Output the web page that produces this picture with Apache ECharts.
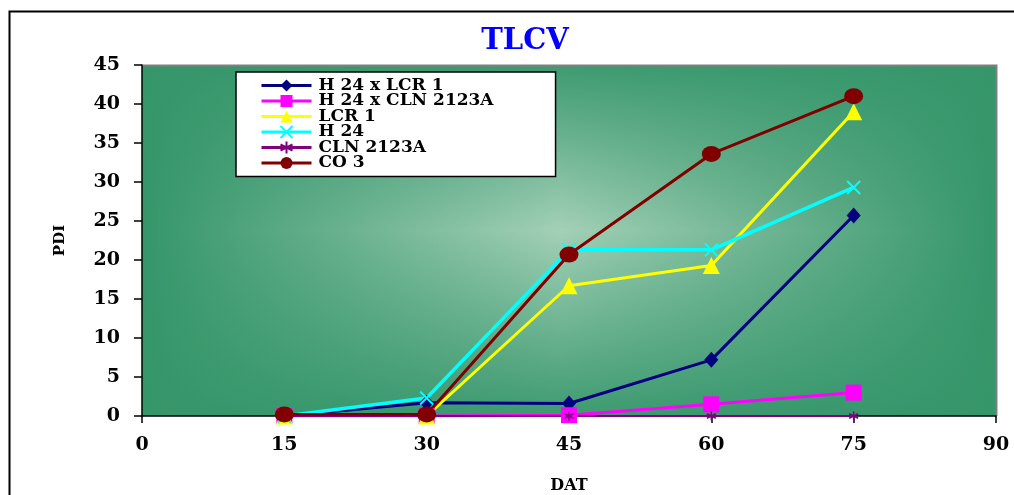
<!DOCTYPE html>
<html>
<head>
<meta charset="utf-8">
<script src="https://cdn.jsdelivr.net/npm/echarts@6/dist/echarts.min.js"></script>
<style>
  html, body { margin: 0; padding: 0; background: #ffffff; }
  #chart { width: 1014px; height: 495px; }
</style>
</head>
<body>
<div id="chart"></div>
<script>
// Days after transplanting (x) and disease index (PDI) per genotype
const days = [15, 30, 45, 60, 75];
const h24xLcr1 = [0, 1.7, 1.6, 7.2, 25.7];
const h24xCln2123a = [0, 0, 0.1, 1.5, 3.0];
const lcr1 = [0, 0, 16.7, 19.3, 39.0];
const h24 = [0, 2.3, 21.3, 21.3, 29.3];
const cln2123a = [0, 0, 0, 0, 0];
const co3 = [0.2, 0.2, 20.7, 33.6, 41.0];
const seriesNames = ['H 24 x LCR 1', 'H 24 x CLN 2123A', 'LCR 1', 'H 24', 'CLN 2123A', 'CO 3'];

const GRID = { left: 142, top: 65, width: 854, height: 351 };
const FONT = '"DejaVu Serif", serif';
const DARK = '#35966a';
const LIGHT = '#a3d0b7';

const pairs = vals => days.map((d, i) => [d, vals[i]]);

const crossPath = 'path://M0,0L10,10M10,0L0,10';
const starPath = 'path://M5,0L5,10M0,2.5L10,7.5M0,7.5L10,2.5';

function lineSeries(name, vals, color, symbol, size, width, extra) {
  return Object.assign({
    name: name,
    type: 'line',
    data: pairs(vals),
    symbol: symbol,
    symbolSize: size,
    showSymbol: true,
    lineStyle: { color: color, width: width },
    itemStyle: { color: color },
    emphasis: { disabled: true },
    animation: false
  }, extra || {});
}

const chart = echarts.init(document.getElementById('chart'));
chart.setOption({
  animation: false,
  title: {
    text: 'TLCV',
    left: 520,
    top: 22,
    textAlign: 'center',
    textStyle: { color: '#0000ff', fontFamily: FONT, fontWeight: 'bold', fontSize: 29 }
  },
  graphic: [
    {
      type: 'rect', z: -20, silent: true,
      shape: { x: 9.5, y: 11.5, width: 1100, height: 600 },
      style: { fill: '#ffffff', stroke: '#000000', lineWidth: 2 }
    },
    {
      type: 'rect', z: -10, silent: true,
      shape: { x: GRID.left, y: GRID.top, width: GRID.width, height: GRID.height },
      style: {
        fill: new echarts.graphic.LinearGradient(0, 0, 1, 0, [
          { offset: 0, color: DARK },
          { offset: 0.49, color: LIGHT },
          { offset: 1, color: DARK }
        ])
      }
    },
    {
      type: 'rect', z: -9, silent: true,
      shape: { x: GRID.left, y: GRID.top, width: GRID.width, height: GRID.height },
      style: {
        fill: new echarts.graphic.LinearGradient(0, 0, 0, 1, [
          { offset: 0, color: 'rgba(53,150,106,0.92)' },
          { offset: 0.47, color: 'rgba(53,150,106,0)' },
          { offset: 1, color: 'rgba(53,150,106,0.92)' }
        ])
      }
    },
    {
      type: 'polyline', z: -8, silent: true,
      shape: { points: [[GRID.left, GRID.top + 0.5], [GRID.left + GRID.width + 0.5, GRID.top + 0.5], [GRID.left + GRID.width + 0.5, GRID.top + GRID.height]] },
      style: { stroke: '#808080', lineWidth: 2, fill: null }
    }
  ],
  legend: {
    data: seriesNames,
    orient: 'vertical',
    left: 236,
    top: 72,
    itemWidth: 50,
    itemHeight: 15,
    itemGap: -1.5,
    padding: [5, 62, 5, 24],
    backgroundColor: '#ffffff',
    borderColor: '#000000',
    borderWidth: 1.5,
    selectedMode: false,
    lineStyle: { width: 3 },
    textStyle: { color: '#000000', fontFamily: FONT, fontWeight: 'bold', fontSize: 17, lineHeight: 15, padding: [0, 0, 0, 2] }
  },
  grid: {
    left: GRID.left, top: GRID.top, width: GRID.width, height: GRID.height,
    containLabel: false, outerBoundsMode: 'none'
  },
  xAxis: {
    type: 'value',
    min: 0, max: 90, interval: 15,
    name: 'DAT',
    nameLocation: 'middle',
    nameGap: 62,
    nameTextStyle: { color: '#000000', fontFamily: FONT, fontWeight: 'bold', fontSize: 16 },
    axisLine: { show: true, lineStyle: { color: '#000000', width: 1.5 } },
    axisTick: { show: true, length: 7, lineStyle: { color: '#000000', width: 1.5 } },
    axisLabel: { color: '#000000', fontFamily: FONT, fontWeight: 'bold', fontSize: 19, margin: 20 },
    splitLine: { show: false }
  },
  yAxis: {
    type: 'value',
    min: 0, max: 45, interval: 5,
    name: 'PDI',
    nameLocation: 'middle',
    nameGap: 74,
    nameRotate: 90,
    nameTextStyle: { color: '#000000', fontFamily: FONT, fontWeight: 'bold', fontSize: 15 },
    axisLine: { show: true, lineStyle: { color: '#000000', width: 1.5 } },
    axisTick: { show: true, length: 8, lineStyle: { color: '#000000', width: 1.5 } },
    axisLabel: { color: '#000000', fontFamily: FONT, fontWeight: 'bold', fontSize: 19, margin: 22 },
    splitLine: { show: false }
  },
  series: [
    lineSeries(seriesNames[0], h24xLcr1, '#000080', 'diamond', [14, 16], 3),
    lineSeries(seriesNames[1], h24xCln2123a, '#ff00ff', 'rect', 16, 3),
    lineSeries(seriesNames[2], lcr1, '#ffff00', 'triangle', 17, 3),
    lineSeries(seriesNames[3], h24, '#00ffff', crossPath, 13, 3.5, {
      itemStyle: { color: '#00ffff', borderColor: '#00ffff', borderWidth: 2 }
    }),
    lineSeries(seriesNames[4], cln2123a, '#800080', starPath, 9, 2, {
      itemStyle: { color: '#800080', borderColor: '#800080', borderWidth: 1.5 }
    }),
    lineSeries(seriesNames[5], co3, '#800000', 'circle', [19, 16], 3)
  ]
});
</script>
</body>
</html>
